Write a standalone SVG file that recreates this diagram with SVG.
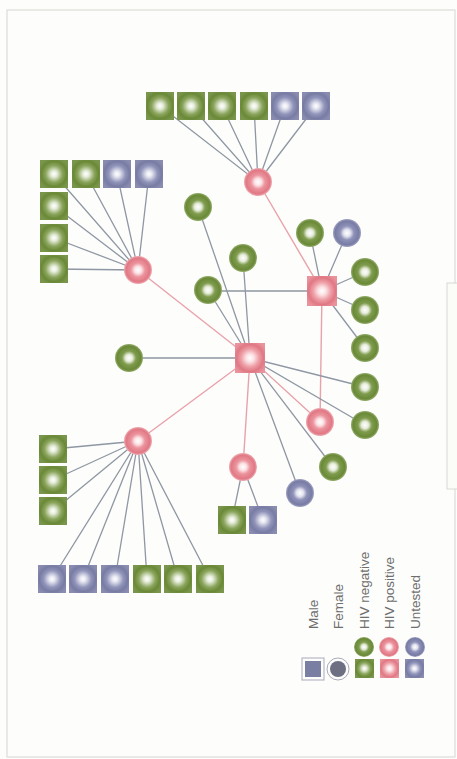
<svg xmlns="http://www.w3.org/2000/svg" width="457" height="759" viewBox="0 0 457 759">
<defs>
<radialGradient id="gSq" cx="0.5" cy="0.5" r="0.6">
<stop offset="0" stop-color="#ffffff"/><stop offset="0.18" stop-color="#e6eddb"/><stop offset="0.5" stop-color="#8ba55d"/><stop offset="0.75" stop-color="#6a8937"/><stop offset="1" stop-color="#7a964c"/>
</radialGradient>
<radialGradient id="uSq" cx="0.5" cy="0.5" r="0.6">
<stop offset="0" stop-color="#ffffff"/><stop offset="0.18" stop-color="#e4e5f0"/><stop offset="0.5" stop-color="#9295ba"/><stop offset="0.75" stop-color="#787ca4"/><stop offset="1" stop-color="#8a8db0"/>
</radialGradient>
<radialGradient id="pSq" cx="0.5" cy="0.5" r="0.6">
<stop offset="0" stop-color="#ffffff"/><stop offset="0.22" stop-color="#fbe2e5"/><stop offset="0.5" stop-color="#ee9ea6"/><stop offset="0.75" stop-color="#e07884"/><stop offset="1" stop-color="#e9939c"/>
</radialGradient>
<radialGradient id="gCi" cx="0.5" cy="0.5" r="0.5">
<stop offset="0" stop-color="#ffffff"/><stop offset="0.25" stop-color="#e6ecdb"/><stop offset="0.5" stop-color="#7f9c4e"/><stop offset="0.85" stop-color="#6a8937"/><stop offset="1" stop-color="#93ad6d"/>
</radialGradient>
<radialGradient id="uCi" cx="0.5" cy="0.5" r="0.5">
<stop offset="0" stop-color="#ffffff"/><stop offset="0.25" stop-color="#e2e3ef"/><stop offset="0.5" stop-color="#8e91b8"/><stop offset="0.85" stop-color="#787ca4"/><stop offset="1" stop-color="#a0a3c2"/>
</radialGradient>
<radialGradient id="pCi" cx="0.5" cy="0.5" r="0.5">
<stop offset="0" stop-color="#ffffff"/><stop offset="0.25" stop-color="#fbe3e6"/><stop offset="0.5" stop-color="#ec949e"/><stop offset="0.85" stop-color="#e07884"/><stop offset="1" stop-color="#efadb4"/>
</radialGradient>
</defs>
<style>
.e{stroke:#8e97a3;stroke-width:1.3;fill:none}
.ep{stroke:#e8a2aa;stroke-width:1.4;fill:none}
.sg{fill:url(#gSq)}
.su{fill:url(#uSq)}
.sp{fill:url(#pSq)}
.cg{fill:url(#gCi)}
.cu{fill:url(#uCi)}
.cp{fill:url(#pCi)}
.lbl{font-family:"Liberation Sans","DejaVu Sans",sans-serif;font-size:13.5px;fill:#6e6e6e}
</style>
<rect x="0" y="0" width="457" height="759" fill="#fdfdfb"/>
<rect x="7" y="10" width="448" height="747" fill="none" stroke="#dcdcd8" stroke-width="1.2"/>
<rect x="447" y="283" width="14" height="206" fill="#fbfbf8" stroke="#d8d8d4" stroke-width="1"/>

<g id="connectors">
<path class="e" d="M258 182L160 106M258 182L191 106M258 182L222 106M258 182L254 106M258 182L285 106M258 182L316 106"/>
<path class="ep" d="M258 182L322 291"/>
<path class="e" d="M138 270L54 174M138 270L86 174M138 270L117 174M138 270L149 174M138 270L54 206M138 270L54 238M138 270L54 269"/>
<path class="ep" d="M138 270L250 358M138 441L250 358M243 467L250 358M320 422L250 358M322 291L320 422"/>
<path class="e" d="M250 358L129 358M250 358L208 290M250 358L243 258M250 358L198 207M250 358L365 387M250 358L365 425M250 358L333 467M250 358L300 493"/>
<path class="e" d="M322 291L208 291M322 291L310 233M322 291L347 233M322 291L365 272M322 291L365 310M322 291L365 348"/>
<path class="e" d="M138 441L53 449M138 441L53 480M138 441L53 511M138 441L52 579M138 441L83 579M138 441L115 579M138 441L147 579M138 441L178 579M138 441L210 579"/>
<path class="e" d="M243 467L232 520M243 467L263 520"/>
</g>

<g id="top-squares">
<rect class="sg" x="146" y="92" width="28" height="28"/>
<rect class="sg" x="177" y="92" width="28" height="28"/>
<rect class="sg" x="208" y="92" width="28" height="28"/>
<rect class="sg" x="240" y="92" width="28" height="28"/>
<rect class="su" x="271" y="92" width="28" height="28"/>
<rect class="su" x="302" y="92" width="28" height="28"/>
</g>
<g id="p1"><circle class="cp" cx="258" cy="182" r="14"/></g>

<g id="left-top-squares">
<rect class="sg" x="40" y="160" width="28" height="28"/>
<rect class="sg" x="72" y="160" width="28" height="28"/>
<rect class="su" x="103" y="160" width="28" height="28"/>
<rect class="su" x="135" y="160" width="28" height="28"/>
<rect class="sg" x="40" y="192" width="28" height="28"/>
<rect class="sg" x="40" y="224" width="28" height="28"/>
<rect class="sg" x="40" y="255" width="28" height="28"/>
</g>
<g id="p2"><circle class="cp" cx="138" cy="270" r="14"/></g>

<g id="g1"><circle class="cg" cx="198" cy="207" r="14"/></g>
<g id="g2"><circle class="cg" cx="243" cy="258" r="14"/></g>
<g id="g3"><circle class="cg" cx="310" cy="233" r="14"/></g>
<g id="u1"><circle class="cu" cx="347" cy="233" r="14"/></g>
<g id="g4"><circle class="cg" cx="208" cy="290" r="14"/></g>
<g id="s2"><rect class="sp" x="307" y="276" width="30" height="30"/></g>
<g id="g5"><circle class="cg" cx="365" cy="272" r="14"/></g>
<g id="g6"><circle class="cg" cx="365" cy="310" r="14"/></g>
<g id="g7"><circle class="cg" cx="365" cy="348" r="14"/></g>
<g id="g8"><circle class="cg" cx="365" cy="387" r="14"/></g>
<g id="g9"><circle class="cg" cx="365" cy="425" r="14"/></g>
<g id="s1"><rect class="sp" x="235" y="343" width="30" height="30"/></g>
<g id="g10"><circle class="cg" cx="129" cy="358" r="14"/></g>
<g id="p3"><circle class="cp" cx="138" cy="441" r="14"/></g>
<g id="left-bottom-squares">
<rect class="sg" x="39" y="435" width="28" height="28"/>
<rect class="sg" x="39" y="466" width="28" height="28"/>
<rect class="sg" x="39" y="497" width="28" height="28"/>
</g>
<g id="bottom-squares">
<rect class="su" x="38" y="565" width="28" height="28"/>
<rect class="su" x="69" y="565" width="28" height="28"/>
<rect class="su" x="101" y="565" width="28" height="28"/>
<rect class="sg" x="133" y="565" width="28" height="28"/>
<rect class="sg" x="164" y="565" width="28" height="28"/>
<rect class="sg" x="196" y="565" width="28" height="28"/>
</g>
<g id="p4"><circle class="cp" cx="320" cy="422" r="14"/></g>
<g id="g11"><circle class="cg" cx="333" cy="467" r="14"/></g>
<g id="u2"><circle class="cu" cx="300" cy="493" r="14"/></g>
<g id="p5"><circle class="cp" cx="243" cy="467" r="14"/></g>
<g id="p5-squares">
<rect class="sg" x="218" y="506" width="28" height="28"/>
<rect class="su" x="249" y="506" width="28" height="28"/>
</g>

<g id="legend">
<rect x="302" y="658" width="22" height="22" fill="none" stroke="#a9abbb" stroke-width="1"/>
<rect x="305" y="661" width="16" height="16" fill="#7a7ea3"/>
<circle cx="338" cy="669" r="11" fill="none" stroke="#a9abbb" stroke-width="1"/>
<circle cx="338" cy="669" r="8" fill="#6d6f83"/>
<rect class="sg" x="355" y="659" width="19" height="19"/>
<rect class="sp" x="380" y="659" width="19" height="19"/>
<rect class="su" x="405" y="659" width="19" height="19"/>
<circle class="cg" cx="364" cy="647" r="10"/>
<circle class="cp" cx="389" cy="647" r="10"/>
<circle class="cu" cx="415" cy="647" r="10"/>
<text class="lbl" transform="translate(318,629) rotate(-90)">Male</text>
<text class="lbl" transform="translate(343,629) rotate(-90)">Female</text>
<text class="lbl" transform="translate(369,629) rotate(-90)">HIV negative</text>
<text class="lbl" transform="translate(394,629) rotate(-90)">HIV positive</text>
<text class="lbl" transform="translate(420,629) rotate(-90)">Untested</text>
</g>
</svg>
